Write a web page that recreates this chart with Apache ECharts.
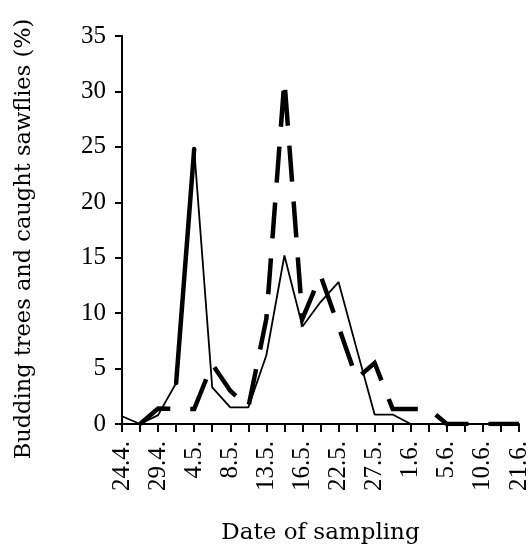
<!DOCTYPE html>
<html>
<head>
<meta charset="utf-8">
<script src="https://cdn.jsdelivr.net/npm/echarts@6/dist/echarts.min.js"></script>
<style>
  html, body { margin: 0; padding: 0; background: #fff; }
  #chart { width: 532px; height: 550px; }
</style>
</head>
<body>
<div id="chart"></div>
<script>
// sampling dates, only every second one is labelled on the axis
const dates = ['24.4.', '', '29.4.', '', '4.5.', '', '8.5.', '', '13.5.', '', '16.5.', '',
  '22.5.', '', '27.5.', '', '1.6.', '', '5.6.', '', '10.6.', '', '21.6.']

// budding trees (thin solid line), %
const budding = [0.7, 0, 0.8, 3.7, 24.8, 3.3, 1.5, 1.5, 6.2, 15.2, 8.8, 11, 12.8, 6.8,
  0.85, 0.85, 0, 0, 0, 0, 0, 0, 0]

// caught sawflies (thick dashed line), %
const sawflies = [null, 0, 1.4, 1.35, 1.35, 5.4, 3, 1.5, 9.5, 31, 9.5, 13.4, 8.8, 4.1,
  5.5, 1.35, 1.35, 1.35, 0, 0, 0, 0, 0]

// the one segment of the budding line that is drawn thick
const buddingThick = [null, null, null, 3.7, 24.8, null, null, null, null, null, null, null,
  null, null, null, null, null, null, null, null, null, null, null]

const yTicks = { min: 0, max: 35, step: 5 }

const font = 'Liberation Serif'
const nameFont = 'DejaVu Serif'

const myChart = echarts.init(document.getElementById('chart'))
const option = {
  animation: false,
  backgroundColor: '#fff',
  grid: { left: 122, right: 13, top: 36, bottom: 122 },
  xAxis: {
    type: 'category',
    data: dates,
    boundaryGap: false,
    name: 'Date of sampling',
    nameLocation: 'middle',
    nameGap: 98,
    nameTextStyle: { fontFamily: nameFont, fontSize: 23, color: '#000' },
    axisLine: { lineStyle: { color: '#000', width: 2 } },
    axisTick: { show: true, interval: 0, length: 8, lineStyle: { color: '#000', width: 2 } },
    axisLabel: {
      interval: 0,
      rotate: 90,
      margin: 17,
      fontFamily: font,
      fontSize: 25,
      color: '#000'
    },
    splitLine: { show: false }
  },
  yAxis: {
    type: 'value',
    min: yTicks.min,
    max: yTicks.max,
    interval: yTicks.step,
    name: 'Budding trees and caught sawflies (%)',
    nameLocation: 'middle',
    nameGap: 86,
    nameTextStyle: { fontFamily: nameFont, fontSize: 22.5, color: '#000', padding: [0, 18, 0, 0] },
    axisLine: { show: true, lineStyle: { color: '#000', width: 2 } },
    axisTick: { show: true, length: 7, lineStyle: { color: '#000', width: 2 } },
    axisLabel: { margin: 16, fontFamily: font, fontSize: 25, color: '#000' },
    splitLine: { show: false }
  },
  series: [
    {
      name: 'Budding trees',
      type: 'line',
      data: budding,
      showSymbol: false,
      lineStyle: { color: '#000', width: 1.8 },
      z: 3
    },
    {
      name: 'Caught sawflies',
      type: 'line',
      data: sawflies,
      showSymbol: false,
      connectNulls: false,
      lineStyle: { color: '#000', width: 4.5, type: [36, 20], cap: 'butt', join: 'miter' },
      z: 4
    },
    {
      name: 'Budding trees thick',
      type: 'line',
      data: buddingThick,
      showSymbol: false,
      lineStyle: { color: '#000', width: 4.5, cap: 'round' },
      z: 4
    }
  ]
}
myChart.setOption(option)
window.addEventListener('resize', function () {
  myChart.resize()
})
</script>
</body>
</html>
